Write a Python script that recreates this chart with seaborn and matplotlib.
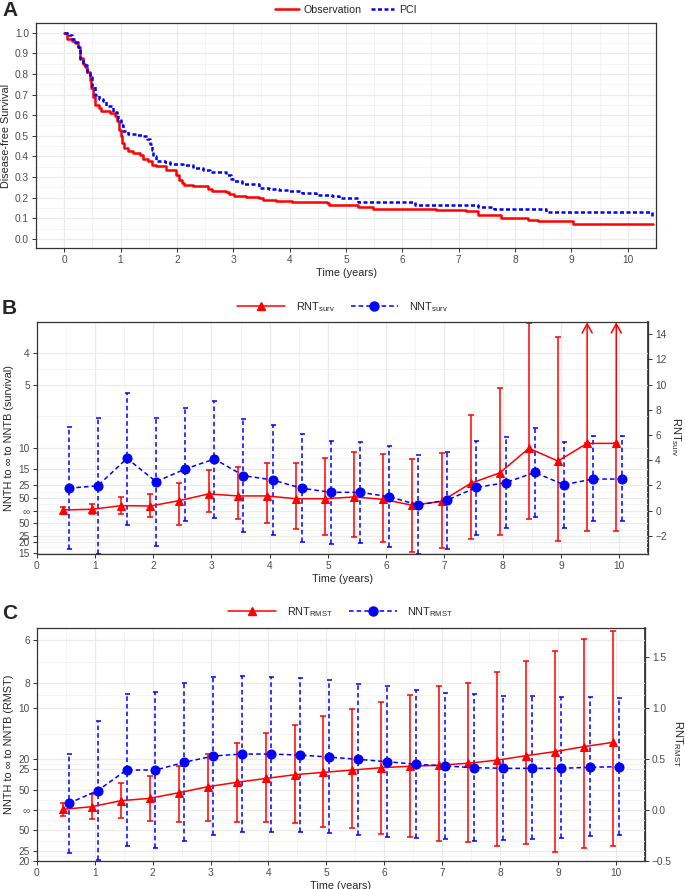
import numpy as np
import pandas as pd
import seaborn as sns
import matplotlib.pyplot as plt

# Panel A: Kaplan-Meier disease-free survival (step points)
obs_time = [0, 0.05, 0.14, 0.19, 0.24, 0.28, 0.33, 0.37, 0.41, 0.45, 0.47, 0.51, 0.54, 0.61,
            0.66, 0.81, 0.90, 0.94, 0.98, 1.00, 1.02, 1.06, 1.14, 1.22, 1.34, 1.40, 1.49,
            1.55, 1.63, 1.81, 1.99, 2.03, 2.09, 2.13, 2.28, 2.55, 2.63, 2.87, 2.93, 3.02,
            3.22, 3.46, 3.52, 3.75, 4.05, 4.66, 4.69, 5.22, 5.48, 6.60, 7.13, 7.34, 7.75,
            8.22, 8.40, 9.02, 10.44]
obs_surv = [1.0, 0.968, 0.961, 0.95, 0.93, 0.876, 0.85, 0.835, 0.81, 0.77, 0.73, 0.69, 0.65,
            0.634, 0.618, 0.61, 0.594, 0.57, 0.53, 0.497, 0.465, 0.44, 0.424, 0.416, 0.408,
            0.39, 0.376, 0.36, 0.352, 0.332, 0.31, 0.287, 0.27, 0.263, 0.258, 0.242, 0.231,
            0.226, 0.218, 0.206, 0.203, 0.197, 0.187, 0.184, 0.179, 0.174, 0.166, 0.155,
            0.147, 0.142, 0.134, 0.115, 0.102, 0.094, 0.085, 0.074, 0.074]
pci_time = [0, 0.08, 0.14, 0.19, 0.24, 0.28, 0.34, 0.40, 0.45, 0.49, 0.54, 0.61, 0.69, 0.75,
            0.87, 0.93, 0.96, 1.00, 1.05, 1.14, 1.28, 1.40, 1.46, 1.52, 1.55, 1.58, 1.62,
            1.78, 1.87, 2.11, 2.28, 2.46, 2.58, 2.87, 2.96, 3.02, 3.16, 3.46, 3.63, 3.81,
            3.99, 4.22, 4.46, 4.75, 4.87, 5.22, 6.22, 7.34, 7.63, 8.54, 10.42, 10.44]
pci_surv = [1.0, 0.99, 0.97, 0.956, 0.93, 0.87, 0.845, 0.81, 0.787, 0.74, 0.70, 0.68, 0.67,
            0.645, 0.613, 0.60, 0.58, 0.55, 0.524, 0.508, 0.505, 0.497, 0.484, 0.461, 0.432,
            0.40, 0.376, 0.371, 0.363, 0.36, 0.344, 0.332, 0.323, 0.31, 0.292, 0.279, 0.268,
            0.247, 0.242, 0.235, 0.231, 0.223, 0.215, 0.206, 0.197, 0.179, 0.166, 0.155,
            0.145, 0.13, 0.11, 0.11]

# Panels B and C: estimates with 95% CI at each landmark time
times = [0.5, 1.0, 1.5, 2.0, 2.5, 3.0, 3.5, 4.0, 4.5, 5.0,
         5.5, 6.0, 6.5, 7.0, 7.5, 8.0, 8.5, 9.0, 9.5, 10.0]

rnt_surv = [0.06, 0.11, 0.40, 0.37, 0.80, 1.33, 1.17, 1.17, 0.95, 0.95,
            1.09, 0.90, 0.43, 0.74, 2.17, 3.00, 4.95, 3.94, 5.34, 5.34]
rnt_surv_lo = [-0.21, -0.26, -0.25, -0.53, -1.13, -0.13, -0.68, -1.00, -1.48, -1.93,
               -2.09, -2.50, -3.30, -3.00, -2.22, -1.96, -0.69, -2.40, -1.59, -1.59]
rnt_surv_hi = [0.27, 0.51, 1.11, 1.32, 2.17, 3.23, 3.49, 3.81, 3.81, 4.16,
               4.68, 4.50, 4.08, 4.60, 7.60, 9.70, 14.87, 13.76, np.inf, np.inf]
nnt_surv = [1.78, 1.98, 4.15, 2.30, 3.31, 4.10, 2.78, 2.44, 1.78, 1.46,
            1.46, 1.11, 0.45, 0.85, 1.85, 2.22, 3.04, 2.06, 2.51, 2.51]
nnt_surv_lo = [-3.04, -3.40, -1.13, -2.78, -0.82, -0.55, -1.67, -1.93, -2.46, -2.67,
               -2.59, -2.86, -3.40, -3.05, -1.93, -1.40, -0.53, -1.35, -0.82, -0.82]
nnt_surv_hi = [6.62, 7.33, 9.37, 7.33, 8.17, 8.73, 7.25, 6.80, 6.06, 5.56,
               5.43, 5.13, 4.42, 4.68, 5.56, 5.82, 6.59, 5.45, 5.93, 5.93]

rnt_rmst = [0.007, 0.033, 0.092, 0.115, 0.17, 0.229, 0.272, 0.31, 0.347, 0.37,
            0.393, 0.416, 0.43, 0.44, 0.46, 0.49, 0.534, 0.574, 0.623, 0.665]
rnt_rmst_lo = [-0.056, -0.088, -0.082, -0.108, -0.115, -0.108, -0.115, -0.115, -0.131, -0.164,
               -0.18, -0.239, -0.262, -0.305, -0.318, -0.35, -0.338, -0.41, -0.377, -0.354]
rnt_rmst_hi = [0.07, 0.154, 0.262, 0.338, 0.436, 0.55, 0.656, 0.754, 0.836, 0.928,
               0.99, 1.065, 1.13, 1.22, 1.245, 1.354, 1.465, 1.557, 1.68, 1.753]
nnt_rmst = [0.066, 0.19, 0.393, 0.393, 0.469, 0.531, 0.55, 0.55, 0.54, 0.52,
            0.498, 0.475, 0.449, 0.433, 0.416, 0.41, 0.41, 0.41, 0.42, 0.426]
nnt_rmst_lo = [-0.426, -0.49, -0.35, -0.377, -0.302, -0.246, -0.22, -0.213, -0.213, -0.23,
               -0.246, -0.262, -0.279, -0.288, -0.30, -0.295, -0.285, -0.27, -0.256, -0.246]
nnt_rmst_hi = [0.55, 0.87, 1.137, 1.163, 1.246, 1.305, 1.32, 1.31, 1.295, 1.278,
               1.239, 1.213, 1.18, 1.154, 1.137, 1.124, 1.12, 1.114, 1.108, 1.105]

# left-axis labels: NNTB above infinity, NNTH below
nntb_b = [4, 5, 10, 15, 25, 50]
nnth_b = [50, 25, 20, 15]
nntb_c = [6, 8, 10, 20, 25, 50]
nnth_c = [50, 25, 20]

RED = '#FF0000'
BLUE = '#0000FF'
GRID = '#EBEBEB'

sns.set_theme(style='white')
plt.rcParams['font.family'] = ['Liberation Sans', 'DejaVu Sans']
plt.rcParams['mathtext.fontset'] = 'custom'
plt.rcParams['mathtext.rm'] = 'Liberation Sans'
plt.rcParams['mathtext.it'] = 'Liberation Sans'

fig = plt.figure(figsize=(6.85, 8.89), dpi=100)
axA = fig.add_axes([0.0526, 0.7207, 0.9051, 0.2538])
axB = fig.add_axes([0.0536, 0.3765, 0.8928, 0.2610])
axC = fig.add_axes([0.0536, 0.0315, 0.8880, 0.2624])


def style_axes(ax):
    for s in ax.spines.values():
        s.set_visible(True)
        s.set_color('#333333')
        s.set_linewidth(0.9)
    ax.tick_params(which='major', colors='#333333', labelcolor='#4D4D4D', labelsize=7.3,
                   length=3, width=0.7, left=True, bottom=True, pad=2)
    ax.tick_params(which='minor', length=0)
    ax.grid(which='major', color=GRID, lw=0.9)
    ax.grid(which='minor', color='#F2F2F2', lw=0.6)
    ax.set_axisbelow(True)


# ---------- Panel A ----------
km = pd.concat([
    pd.DataFrame({'time': obs_time, 'surv': obs_surv, 'arm': 'Observation'}),
    pd.DataFrame({'time': pci_time, 'surv': pci_surv, 'arm': 'PCI'}),
])
sns.lineplot(data=km, x='time', y='surv', hue='arm', style='arm',
             palette={'Observation': RED, 'PCI': BLUE},
             dashes={'Observation': '', 'PCI': (1.6, 1.0)},
             drawstyle='steps-post', estimator=None, lw=1.8, ax=axA, legend=False)
axA.set_xlim(-0.49, 10.45)
axA.set_ylim(-0.045, 1.048)
axA.set_xticks(range(0, 11))
axA.set_xticks(np.arange(-0.5, 10.6, 0.5), minor=True)
axA.set_yticks(np.arange(0, 1.01, 0.1))
axA.set_yticks(np.arange(0.05, 1.0, 0.1), minor=True)
axA.set_yticklabels([f'{v:.1f}' for v in np.arange(0, 1.01, 0.1)])
style_axes(axA)
axA.set_xlabel('Time (years)', fontsize=7.8, labelpad=2)
axA.set_ylabel('Disease-free Survival', fontsize=7.8, labelpad=3)
hA = [plt.Line2D([], [], color=RED, lw=1.8),
      plt.Line2D([], [], color=BLUE, lw=1.8, dashes=(1.6, 1.0))]
axA.legend(hA, ['Observation', 'PCI'], loc='lower center', bbox_to_anchor=(0.5, 1.01),
           ncol=2, frameon=False, fontsize=7.7, handlelength=2.2, columnspacing=0.8,
           handletextpad=0.5, borderaxespad=0.1)
fig.text(0.003, 0.988, 'A', fontsize=15, fontweight='bold', va='center', ha='left')


# ---------- Panels B and C ----------
def nnt_panel(ax, scale, nntb, nnth, est_r, lo_r, hi_r, est_n, lo_n, hi_n,
              ylim, rticks, sub, left_title, xmax, rlab_xy):
    t = np.array(times)
    tr, tn = t - 0.05, t + 0.05
    est_r, lo_r, hi_r = map(np.array, (est_r, lo_r, hi_r))
    est_n, lo_n, hi_n = map(np.array, (est_n, lo_n, hi_n))
    open_top = np.isinf(hi_r)
    hi_draw = np.where(open_top, est_r, hi_r)

    ax.errorbar(tr, est_r, yerr=[est_r - lo_r, hi_draw - est_r], fmt='none',
                ecolor=RED, elinewidth=1.1, capsize=2.2, capthick=1.1, zorder=2)
    for x, y in zip(tr[open_top], est_r[open_top]):
        ax.annotate('', xy=(x, ylim[1]), xytext=(x, y), annotation_clip=False,
                    arrowprops=dict(arrowstyle='->,head_length=0.55,head_width=0.3',
                                    color=RED, lw=1.1, shrinkA=0, shrinkB=0))
    eb2 = ax.errorbar(tn, est_n, yerr=[est_n - lo_n, hi_n - est_n], fmt='none',
                      ecolor=BLUE, elinewidth=1.1, capsize=1.8, capthick=1.1, zorder=2)
    eb2.lines[2][0].set_linestyle((0, (3, 2)))

    sns.lineplot(x=tr, y=est_r, color=RED, lw=1.1, marker='^', markersize=6,
                 markeredgecolor=RED, ax=ax, zorder=3)
    sns.lineplot(x=tn, y=est_n, color=BLUE, lw=1.1, dashes=(3, 2), marker='o',
                 markersize=6.5, markeredgecolor=BLUE, ax=ax, zorder=3)

    ax.set_xlim(0, xmax)
    ax.set_ylim(*ylim)
    ax.set_xticks(range(0, 11))
    ax.set_xticks(np.arange(0.5, 10.6, 0.5), minor=True)
    pos = [scale / v for v in nntb] + [0] + [-scale / v for v in nnth]
    labs = [str(v) for v in nntb] + ['\u221e'] + [str(v) for v in nnth]
    ax.set_yticks(pos)
    ax.set_yticklabels(labs)
    srt = sorted(pos)
    ax.set_yticks([(a + b) / 2 for a, b in zip(srt[:-1], srt[1:])], minor=True)
    style_axes(ax)
    ax.set_xlabel('Time (years)', fontsize=7.8, labelpad=2)
    ax.set_ylabel(left_title, fontsize=7.8, labelpad=3)

    sec = ax.secondary_yaxis('right')
    sec.set_yticks(rticks)
    sec.tick_params(colors='#333333', labelcolor='#4D4D4D', labelsize=7.3, length=3,
                    width=0.7, pad=2)
    sec.spines['right'].set_color('#333333')
    fig.text(rlab_xy[0], rlab_xy[1], r'RNT$_{\mathrm{%s}}$' % sub, rotation=270,
             fontsize=8, ha='center', va='center')

    h = [plt.Line2D([], [], color=RED, lw=1.1, marker='^', markersize=6),
         plt.Line2D([], [], color=BLUE, lw=1.1, dashes=(3, 2), marker='o', markersize=6.5)]
    ax.legend(h, [r'RNT$_{\mathrm{%s}}$' % sub, r'NNT$_{\mathrm{%s}}$' % sub],
              loc='lower center', bbox_to_anchor=(0.5, 1.0), ncol=2, frameon=False,
              fontsize=7.8, handlelength=4.4, columnspacing=1.5, handletextpad=1.0,
              borderaxespad=0.4)


nnt_panel(axB, 50, nntb_b, nnth_b, rnt_surv, rnt_surv_lo, rnt_surv_hi,
          nnt_surv, nnt_surv_lo, nnt_surv_hi, (-3.46, 14.95), range(-2, 15, 2),
          'surv', 'NNTH to \u221e to NNTB (survival)', 10.5, (676 / 685, 1 - 437 / 889))
nnt_panel(axC, 10, nntb_c, nnth_c, rnt_rmst, rnt_rmst_lo, rnt_rmst_hi,
          nnt_rmst, nnt_rmst_lo, nnt_rmst_hi, (-0.5, 1.79), [-0.5, 0, 0.5, 1.0, 1.5],
          'RMST', 'NNTH to \u221e to NNTB (RMST)', 10.45, (678 / 685, 1 - 743 / 889))

fig.text(0.003, 0.653, 'B', fontsize=15, fontweight='bold', va='center', ha='left')
fig.text(0.003, 0.310, 'C', fontsize=15, fontweight='bold', va='center', ha='left')

fig.savefig('out.png', dpi=100)
